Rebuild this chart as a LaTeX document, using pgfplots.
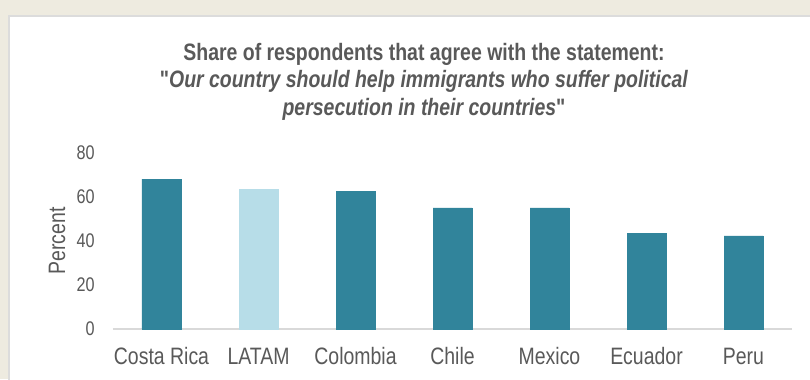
\documentclass[border=0pt]{standalone}
\usepackage{pgfplots}
\pgfplotsset{compat=1.18}
\usepackage{fontspec}
\setmainfont{Liberation Sans}[FakeStretch=0.82,Ligatures=TeXOff]
\definecolor{bgc}{HTML}{EEEBE0}
\definecolor{panelborder}{HTML}{DCDCDC}
\definecolor{txt}{HTML}{595959}
\definecolor{teal}{HTML}{31849B}
\definecolor{lightteal}{HTML}{B7DDE8}
\definecolor{axline}{HTML}{D9D9D9}
\begin{document}
\begin{tikzpicture}
\useasboundingbox (0,0) rectangle (607.5pt,284.25pt);
\fill[bgc] (0,0) rectangle (607.5pt,284.25pt);
\filldraw[fill=white,draw=panelborder,line width=1.5pt] (6.9pt,-10pt) rectangle (620pt,272.6pt);
\node[anchor=base,text=txt,font=\fontsize{17.8pt}{20pt}\selectfont\bfseries] at (318pt,239pt) {Share of respondents that agree with the statement:};
\node[anchor=base,text=txt,font=\fontsize{17.8pt}{20pt}\selectfont\bfseries] at (318pt,218.5pt) {"\textit{Our country should help immigrants who suffer political}};
\node[anchor=base,text=txt,font=\fontsize{17.8pt}{20pt}\selectfont\bfseries] at (318pt,197.5pt) {\textit{persecution in their countries}"};
\begin{axis}[
  at={(84.75pt,37.5pt)}, anchor=south west,
  scale only axis, width=509.25pt, height=132pt,
  xmin=-0.5, xmax=6.5, ymin=0, ymax=80,
  ytick=\empty,
  xtick={0,1,2,3,4,5,6},
  xticklabels={Costa Rica,LATAM,Colombia,Chile,Mexico,Ecuador,Peru},
  axis y line=none,
  axis x line*=bottom,
  axis line style={draw=axline,line width=1.5pt},
  x axis line style={-},
  major tick length=0pt,
  /pgf/number format/assume math mode=true,
  xticklabel style={text=txt,font=\fontsize{17.8pt}{20pt}\selectfont,anchor=north,yshift=-10.5pt},
  ybar, bar width=29.25pt, bar shift=0pt,
  clip=false,
]
\addplot[fill=teal,draw=teal] coordinates {(0,68.1) (2,62.6) (3,55.1) (4,55.1) (5,43.6) (6,42.3)};
\addplot[fill=lightteal,draw=lightteal] coordinates {(1,63.6)};
\pgfplotsinvokeforeach{0,20,40,60,80}{
  \node[anchor=east,text=txt,font=\fontsize{14.8pt}{16pt}\selectfont,inner sep=0pt] at ([xshift=-13.5pt]axis cs:-0.5,#1) {#1};
}
\node[rotate=90,anchor=center,text=txt,font=\fontsize{17.8pt}{20pt}\selectfont] at ([xshift=-42pt]rel axis cs:0,0.5) {Percent};
\end{axis}
\end{tikzpicture}
\end{document}
